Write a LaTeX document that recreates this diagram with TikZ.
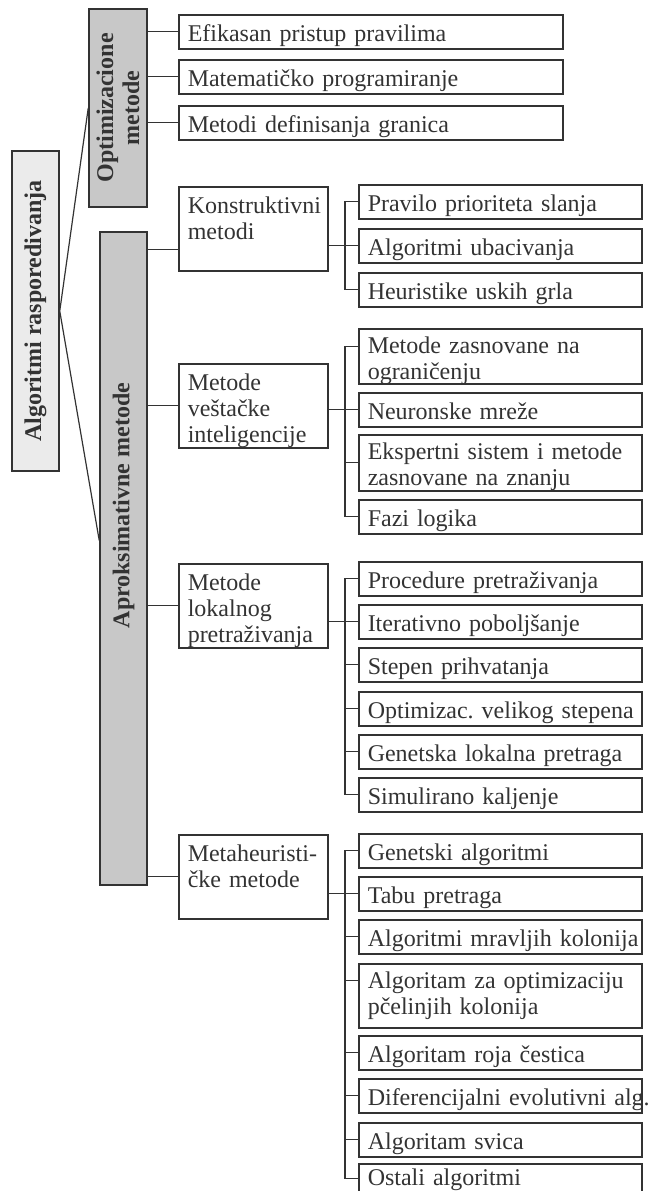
\documentclass[tikz,border=0pt]{standalone}
\usepackage{fontspec}
\setmainfont{Liberation Serif}
\definecolor{linec}{HTML}{333333}
\definecolor{rootfill}{HTML}{EBEBEB}
\definecolor{groupfill}{HTML}{C8C8C8}
\newcommand\dfont{\fontsize{24}{26}\selectfont}
\tikzset{
  leaf/.style={draw=linec, line width=1.5pt, anchor=north west, inner xsep=9pt, inner ysep=0pt,
    text width=265pt, align=left, text height=27pt, text depth=7pt},
  wideleaf/.style={leaf, text width=366pt},
  method/.style={leaf, text width=131pt, text depth=57pt},
  vbox/.style={draw=linec, line width=1.5pt, rotate=90, align=center, font=\dfont\bfseries, inner sep=0pt},
  link/.style={draw=linec, line width=1.2pt},
}
\begin{document}
\begin{tikzpicture}[x=1pt, y=-1pt, font=\dfont, text=linec]
\useasboundingbox (0,0) rectangle (651,1191);
% main groups
\node[vbox, fill=rootfill, minimum width=320pt, minimum height=47pt] (root) at (35.5,311) {Algoritmi rasporedivanja};
\node[vbox, fill=groupfill, minimum width=198pt, minimum height=58pt] (opt) at (118,108) {Optimizacione\\metode};
\node[vbox, fill=groupfill, minimum width=653pt, minimum height=47pt] (aprok) at (123.5,558.5) {};
\node[rotate=90, font=\dfont\bfseries] (aproktxt) at ([yshift=53pt]aprok.center) {Aproksimativne metode};

% optimizacione metode
\node[wideleaf] (ef) at (178,14) {Efikasan pristup pravilima};
\node[wideleaf] (mat) at (178,59) {Matematičko programiranje};
\node[wideleaf] (gran) at (178,105) {Metodi definisanja granica};

% aproksimativne metode
\node[method] (konstr) at (178,186) {Konstruktivni\\metodi};
\node[method] (vest) at (178,363) {Metode\\veštačke\\inteligencije};
\node[method] (lokal) at (178,563) {Metode\\lokalnog\\pretraživanja};
\node[method] (meta) at (178,834) {Metaheuristi-\\čke metode};

\node[leaf] (pravilo) at (358,184) {Pravilo prioriteta slanja};
\node[leaf] (ubac) at (358,228) {Algoritmi ubacivanja};
\node[leaf] (grla) at (358,272) {Heuristike uskih grla};

\node[leaf, text height=25pt, text depth=30pt] (zasn) at (358,328) {Metode zasnovane na\\ograničenju};
\node[leaf] (neur) at (358,392) {Neuronske mreže};
\node[leaf, text height=25pt, text depth=31pt] (eksp) at (358,434) {Ekspertni sistem i metode\\zasnovane na znanju};
\node[leaf] (fazi) at (358,499) {Fazi logika};

\node[leaf] (proc) at (358,561) {Procedure pretraživanja};
\node[leaf] (iter) at (358,604) {Iterativno poboljšanje};
\node[leaf] (prih) at (358,647) {Stepen prihvatanja};
\node[leaf] (veli) at (358,691) {\mbox{Optimizac.\ velikog stepena}};
\node[leaf] (genlok) at (358,734) {Genetska lokalna pretraga};
\node[leaf] (sim) at (358,777) {Simulirano kaljenje};

\node[leaf] (gen) at (358,833) {Genetski algoritmi};
\node[leaf] (tabu) at (358,876) {Tabu pretraga};
\node[leaf] (mrav) at (358,919) {\mbox{Algoritmi mravljih kolonija}};
\node[leaf, text height=25pt, text depth=39pt] (pcel) at (358,963) {Algoritam za optimizaciju\\pčelinjih kolonija};
\node[leaf] (roj) at (358,1035) {Algoritam roja čestica};
\node[leaf] (dif) at (358,1078) {\mbox{Diferencijalni evolutivni alg.}};
\node[leaf] (svic) at (358,1122) {Algoritam svica};
\node[leaf, text height=22pt] (ost) at (358,1163) {Ostali algoritmi};

% connectors
\draw[link] (root.south) -- (opt.north);
\draw[link] (root.south) -- ([yshift=18pt]aprok.north);
\foreach \n in {ef,mat,gran}
  \draw[link] (opt.south |- \n.west) -- (\n.west);

\coordinate (kin) at ([yshift=-21pt]konstr.west);
\draw[link] (aprok.south |- kin) -- (kin);
\foreach \n in {vest,lokal,meta}
  \draw[link] (aprok.south |- \n.west) -- (\n.west);

\draw[link] (konstr.east |- ubac.west) -- (ubac.west);
\draw[link] (pravilo.west) -- ++(-13,0) |- (grla.west);

\draw[link] (vest.east |- neur.west) -- (neur.west);
\draw[link] ([yshift=10pt]zasn.west) -- ++(-13,0) |- (fazi.west);
\draw[link] (eksp.west) -- ++(-13,0);

\draw[link] (lokal.east |- iter.west) -- (iter.west);
\draw[link] (proc.west) -- ++(-13,0) |- (sim.west);
\foreach \n in {prih,veli,genlok}
  \draw[link] (\n.west) -- ++(-13,0);

\draw[link] (meta.east |- tabu.west) -- (tabu.west);
\draw[link] (gen.west) -- ++(-13,0) |- (ost.west);
\foreach \n in {mrav,roj,dif,svic}
  \draw[link] (\n.west) -- ++(-13,0);
\draw[link] ([yshift=15pt]pcel.west) -- ++(-13,0);
\end{tikzpicture}
\end{document}
